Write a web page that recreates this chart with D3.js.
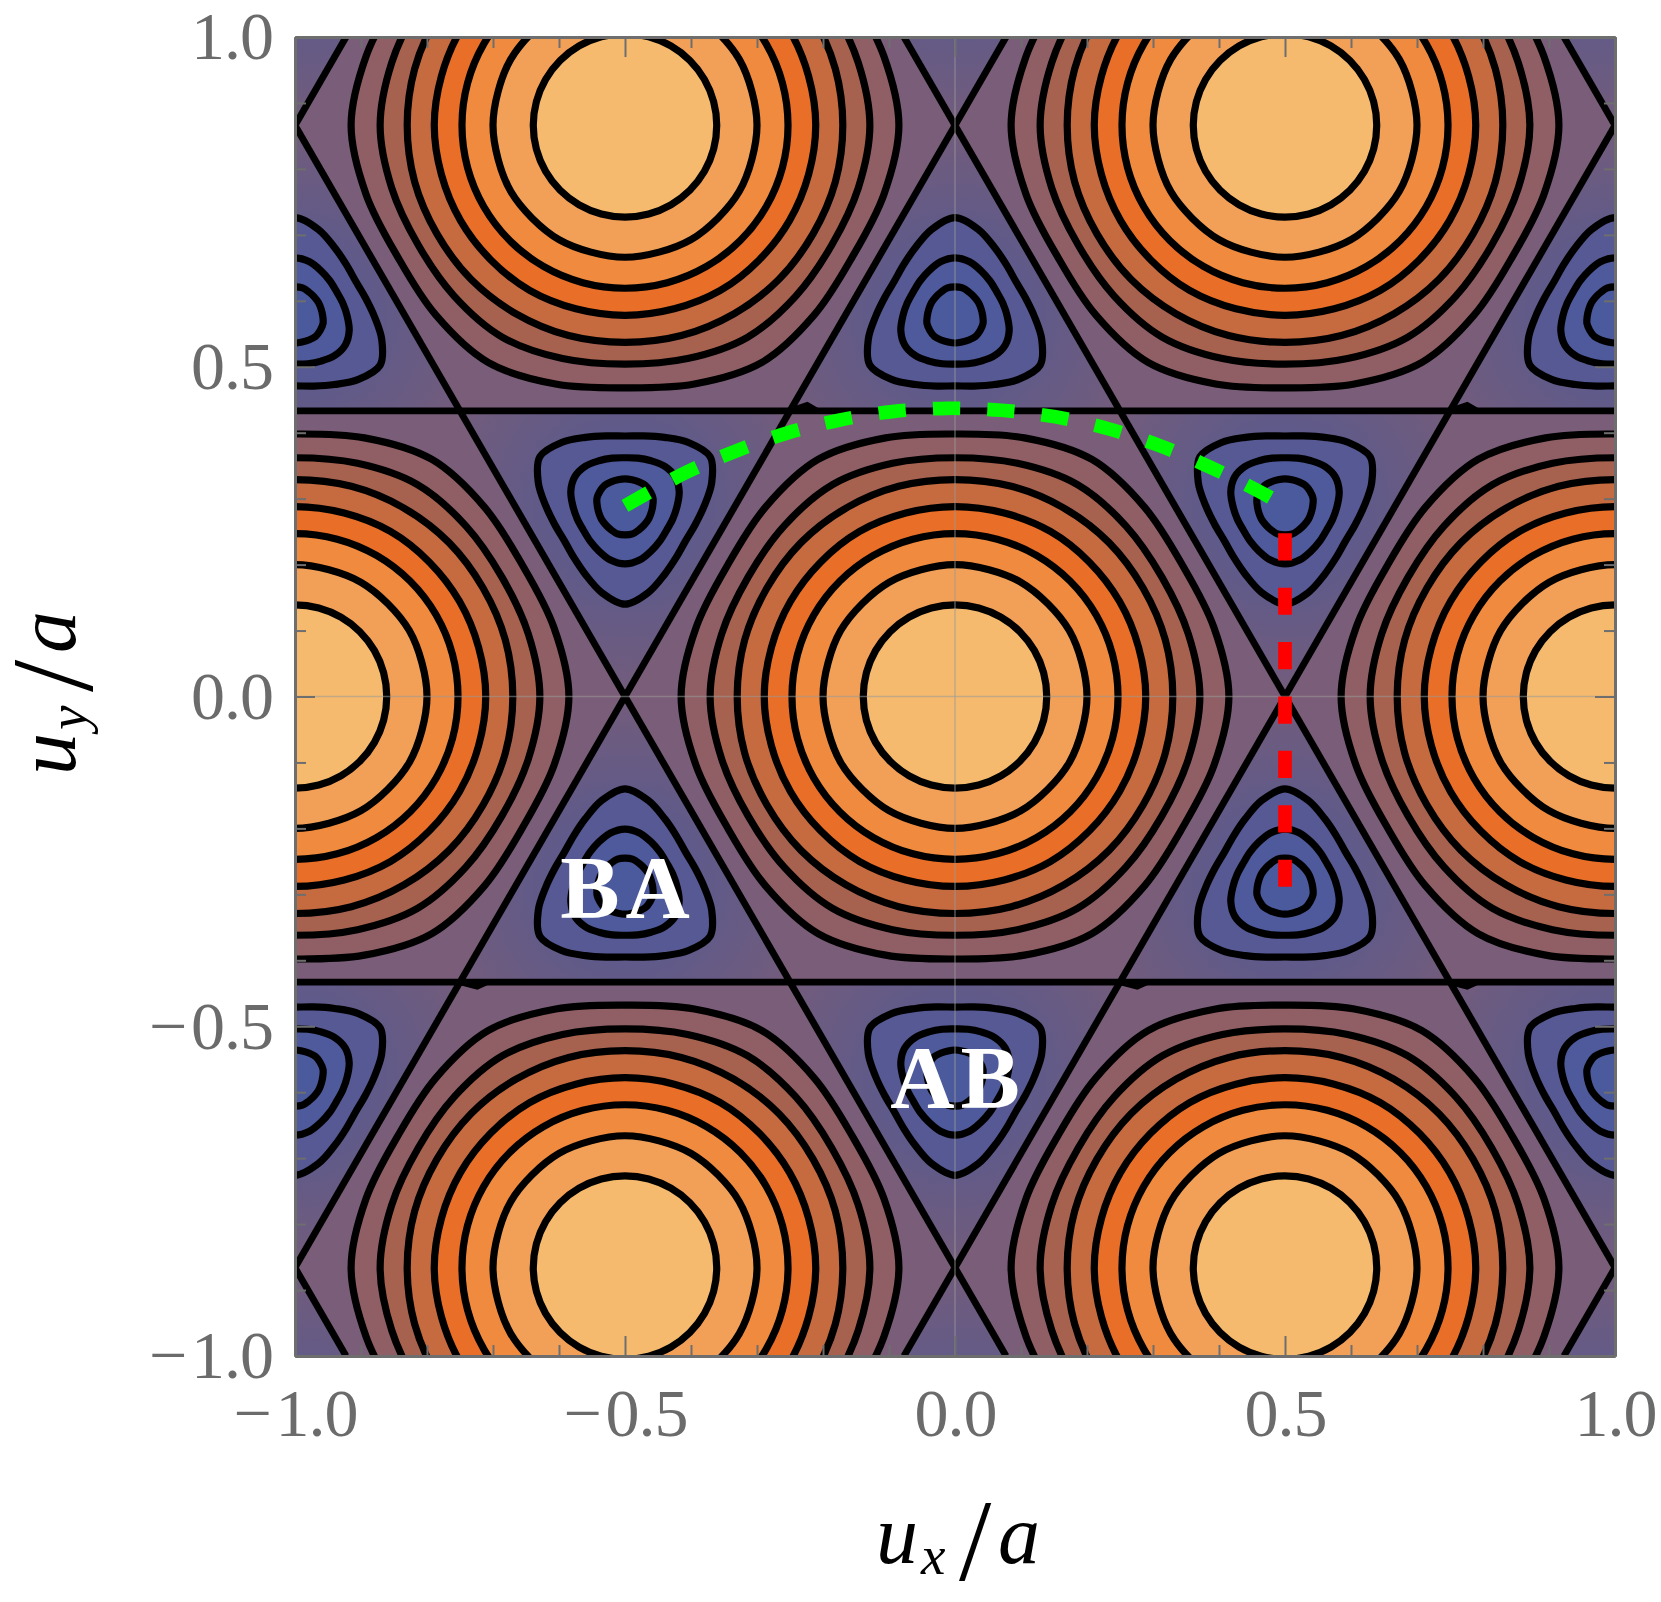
<!DOCTYPE html>
<html>
<head>
<meta charset="utf-8">
<script src="https://cdn.jsdelivr.net/npm/d3@7"></script>
<style>
body { margin: 0; background: white; }
text { font-family: "Liberation Serif", serif; }
</style>
</head>
<body>
<svg width="1661" height="1602"></svg>
<script>
// lattice sites, in units of a
var peakX = [0, -1, 1, -0.5, 0.5, -0.5, 0.5];
var peakY = [0, 0, 0, 0.866, 0.866, -0.866, -0.866];
var wellX = [0.5, 0.5, -0.5, -0.5, 0, 0, -1, -1, 1, 1, 0, 0, -1, -1, 1, 1];
var wellY = [0.289, -0.289, 0.289, -0.289, 0.577, -0.577, 0.577, -0.577, 0.577, -0.577, 1.155, -1.155, 1.155, -1.155, 1.155, -1.155];
// direction of the triangle's sharp corner, degrees
var wellApex = [-90, 90, -90, 90, 90, -90, 90, -90, 90, -90, -90, 90, -90, 90, -90, 90];
var triangleR = [0.2887];

// contour radii at sample angles; the rest follows from the symmetry
// read from the crops, refined by hand against a cosine fit of the same picture
var peakAngles = [0, 15, 30];
var peakRadii = [
    [0.415, 0.406, 0.398],
    [0.371, 0.366, 0.362],
    [0.330, 0.330, 0.329],
    [0.289, 0.288, 0.288],
    [0.247, 0.247, 0.247],
    [0.200, 0.199, 0.200],
    [0.139, 0.139, 0.139]
];
var peakColors = ['#8f5f65', '#a7624f', '#c66a3f', '#e96e27', '#ef8a3e', '#f2a057', '#f5ba6e'];

var wellAngles = [0, 15, 30, 45, 60];
var wellRadii = [
    [0.149, 0.136, 0.120, 0.110, 0.106],
    [0.088, 0.085, 0.079, 0.075, 0.073],
    [0.044, 0.044, 0.042, 0.041, 0.041]
];
var wellColors = ['#565993', '#4e5a9b', '#4b5a9d'];

var outerColor = '#7a5d78';

// saddle lines: horizontals y = c, diagonals x +- y/sqrt(3) = c
var flatLines = [-0.433, 0.433];
var slantLines = [-1.5, -0.5, 0.5, 1.5];
// small kinks where the saddle lines cross
var kinkX = [-0.25, 0.75, 0.25, 0.75, -0.75];
var kinkY = [0.433, 0.433, -0.433, -0.433, -0.433];
var kinkUp = [0.009, 0.009, -0.007, -0.007, -0.007];

var greenPathX = [-0.5, -0.409, -0.335, -0.256, -0.176, -0.095, -0.012, 0.07, 0.152, 0.232, 0.311, 0.386, 0.459, 0.5];
var greenPathY = [0.289, 0.339, 0.371, 0.399, 0.419, 0.432, 0.437, 0.434, 0.424, 0.406, 0.380, 0.348, 0.312, 0.289];
var redPathX = [0.5, 0.5];
var redPathY = [0.2475, -0.289];

var majorTicks = [-1, -0.5, 0, 0.5, 1];
var minorTicks = [-0.9, -0.8, -0.7, -0.6, -0.4, -0.3, -0.2, -0.1, 0.1, 0.2, 0.3, 0.4, 0.6, 0.7, 0.8, 0.9];

var stackLabels = ['BA', 'AB'];
var stackX = [-0.5, 0];
var stackY = [-0.334, -0.623];

var svg = d3.select('svg');
var left = 295, right = 1615, top_ = 37, bottom = 1356;

var xScale = d3.scaleLinear().domain([-1, 1]).range([left, right]);
var yScale = d3.scaleLinear().domain([-1, 1]).range([bottom, top_]);
var defs = svg.append('defs');

defs.append('clipPath').attr('id', 'plot').append('rect')
    .attr('x', left).attr('y', top_)
    .attr('width', right - left).attr('height', bottom - top_);

var plot = svg.append('g').attr('clip-path', 'url(#plot)');

plot.append('rect')
    .attr('x', left).attr('y', top_)
    .attr('width', right - left).attr('height', bottom - top_)
    .attr('fill', outerColor);

var lineClosed = d3.line()
    .x(d => xScale(d[0]))
    .y(d => yScale(d[1]))
    .curve(d3.curveCatmullRomClosed.alpha(0.5));
var lineStraight = d3.line().x(d => xScale(d[0])).y(d => yScale(d[1]));

// one closed contour from the radii of its first sector, mirrored sector by sector
var loopPoints = (cx, cy, start, angles, radii, sectors) => {
    var sector = angles[angles.length - 1];
    var n = angles.length;
    var pts = [];
    for (var s = 0; s < sectors; s++) {
        for (var i = 0; i < n - 1; i++) {
            var j = s % 2 === 1 ? n - 1 - i : i;
            var ang = s % 2 === 1 ? (s + 1) * sector - angles[j] : s * sector + angles[j];
            var t = (start + ang) * Math.PI / 180;
            pts.push([cx + radii[j] * Math.cos(t), cy + radii[j] * Math.sin(t)]);
        }
    }
    return pts;
};

// the triangles between the saddle lines, slightly darker toward the middle
wellX.forEach((wx, n) => {
    var grad = defs.append('radialGradient').attr('id', 'tri' + n)
        .attr('gradientUnits', 'userSpaceOnUse')
        .attr('cx', xScale(wx)).attr('cy', yScale(wellY[n]))
        .attr('r', xScale(triangleR[0]) - xScale(0));
    grad.append('stop').attr('offset', '35%').attr('stop-color', '#5d5a8b');
    grad.append('stop').attr('offset', '100%').attr('stop-color', '#735c7b');

    var corners = [0, 120, 240].map(a => {
        var t = (wellApex[n] + a) * Math.PI / 180;
        return [wx + triangleR[0] * Math.cos(t), wellY[n] + triangleR[0] * Math.sin(t)];
    });
    plot.append('path')
        .attr('d', lineStraight(corners) + 'Z')
        .attr('fill', 'url(#tri' + n + ')');
});

var rings = (cx, cy, start, angles, radiiList, colors, sectors) => {
    radiiList.forEach((radii, i) => {
        plot.append('path')
            .attr('d', lineClosed(loopPoints(cx, cy, start, angles, radii, sectors)))
            .attr('fill', colors[i])
            .attr('stroke', 'black')
            .attr('stroke-width', 7.2);
    });
};

peakX.forEach((px, n) => rings(px, peakY[n], 0, peakAngles, peakRadii, peakColors, 12));
wellX.forEach((wx, n) => rings(wx, wellY[n], wellApex[n], wellAngles, wellRadii, wellColors, 6));

// saddle lines
flatLines.forEach(c => {
    plot.append('line')
        .attr('x1', xScale(-1)).attr('x2', xScale(1))
        .attr('y1', yScale(c)).attr('y2', yScale(c))
        .attr('stroke', 'black').attr('stroke-width', 6.8);
});
slantLines.forEach(c => {
    [1, -1].forEach(sign => {
        plot.append('line')
            .attr('x1', xScale(c + sign * 1 / Math.sqrt(3))).attr('y1', yScale(-1))
            .attr('x2', xScale(c - sign * 1 / Math.sqrt(3))).attr('y2', yScale(1))
            .attr('stroke', 'black').attr('stroke-width', 6.8);
    });
});
kinkX.forEach((kx, i) => {
    plot.append('path')
        .attr('d', lineStraight([[kx, kinkY[i]], [kx + 0.026, kinkY[i] + kinkUp[i]], [kx + 0.041, kinkY[i]]]))
        .attr('fill', 'none').attr('stroke', 'black').attr('stroke-width', 6);
});

// faint axis lines through the origin
plot.append('line')
    .attr('x1', xScale(0)).attr('x2', xScale(0)).attr('y1', yScale(-1)).attr('y2', yScale(1))
    .attr('stroke', '#999').attr('stroke-opacity', 0.55).attr('stroke-width', 1.5);
plot.append('line')
    .attr('x1', xScale(-1)).attr('x2', xScale(1)).attr('y1', yScale(0)).attr('y2', yScale(0))
    .attr('stroke', '#999').attr('stroke-opacity', 0.55).attr('stroke-width', 1.5);

// dashed paths
var open = d3.line().x(d => xScale(d[0])).y(d => yScale(d[1])).curve(d3.curveCatmullRom.alpha(0.5));
plot.append('path')
    .attr('d', open(greenPathX.map((v, i) => [v, greenPathY[i]])))
    .attr('fill', 'none').attr('stroke', '#00ff00').attr('stroke-width', 13.7)
    .attr('stroke-dasharray', '27.2 27.2');
plot.append('path')
    .attr('d', open(redPathX.map((v, i) => [v, redPathY[i]])))
    .attr('fill', 'none').attr('stroke', '#ff0000').attr('stroke-width', 13.7)
    .attr('stroke-dasharray', '27.2 27.2');

stackLabels.forEach((t, i) => {
    plot.append('text')
        .attr('x', xScale(stackX[i]) + 3).attr('y', yScale(stackY[i]))
        .attr('text-anchor', 'middle')
        .attr('font-size', 89).attr('font-weight', 'bold')
        .attr('letter-spacing', 6)
        .attr('fill', 'white')
        .text(t);
});

// axes
var grey = '#6e6e6e';
var fmt = v => d3.format('.1f')(v).replace('\u2212', '\u2212\u200a');
var styleAxis = g => {
    g.selectAll('.domain').attr('stroke', grey).attr('stroke-width', 3);
    g.selectAll('.tick line').attr('stroke', grey).attr('stroke-width', 2);
    g.selectAll('.tick text').attr('fill', '#6b6b6b').attr('font-size', 68)
        .attr('letter-spacing', -1);
};

svg.append('g').attr('transform', 'translate(0,' + bottom + ')')
    .call(d3.axisBottom(xScale).tickValues(majorTicks).tickFormat(fmt).tickSizeInner(-20).tickSizeOuter(0).tickPadding(32))
    .call(styleAxis);
svg.append('g').attr('transform', 'translate(' + left + ',0)')
    .call(d3.axisLeft(yScale).tickValues(majorTicks).tickFormat(fmt).tickSizeInner(-20).tickSizeOuter(0).tickPadding(22))
    .call(styleAxis);
svg.append('g').attr('transform', 'translate(0,' + top_ + ')')
    .call(d3.axisTop(xScale).tickValues(majorTicks).tickFormat('').tickSizeInner(-20).tickSizeOuter(0))
    .call(styleAxis);
svg.append('g').attr('transform', 'translate(' + right + ',0)')
    .call(d3.axisRight(yScale).tickValues(majorTicks).tickFormat('').tickSizeInner(-20).tickSizeOuter(0))
    .call(styleAxis);

svg.append('g').attr('transform', 'translate(0,' + bottom + ')')
    .call(d3.axisBottom(xScale).tickValues(minorTicks).tickFormat('').tickSizeInner(-11).tickSizeOuter(0))
    .call(styleAxis);
svg.append('g').attr('transform', 'translate(' + left + ',0)')
    .call(d3.axisLeft(yScale).tickValues(minorTicks).tickFormat('').tickSizeInner(-11).tickSizeOuter(0))
    .call(styleAxis);
svg.append('g').attr('transform', 'translate(0,' + top_ + ')')
    .call(d3.axisTop(xScale).tickValues(minorTicks).tickFormat('').tickSizeInner(-11).tickSizeOuter(0))
    .call(styleAxis);
svg.append('g').attr('transform', 'translate(' + right + ',0)')
    .call(d3.axisRight(yScale).tickValues(minorTicks).tickFormat('').tickSizeInner(-11).tickSizeOuter(0))
    .call(styleAxis);

// axis titles, piece by piece because of the long slash
var title = (transform, sub) => {
    var g = svg.append('g').attr('transform', transform);
    var piece = (t, x, y, size, style) => g.append('text')
        .attr('x', x).attr('y', y).attr('font-size', size).attr('font-style', style).attr('fill', 'black').text(t);
    piece('u', 0, 0, 84, 'italic');
    piece(sub, 45, 11, 55, 'italic');
    piece('/', 83, 17, 116, 'normal');
    piece('a', 122, 0, 84, 'italic');
};
title('translate(876,1563)', 'x');
title('translate(75,775) rotate(-90)', 'y');
</script>
</body>
</html>
